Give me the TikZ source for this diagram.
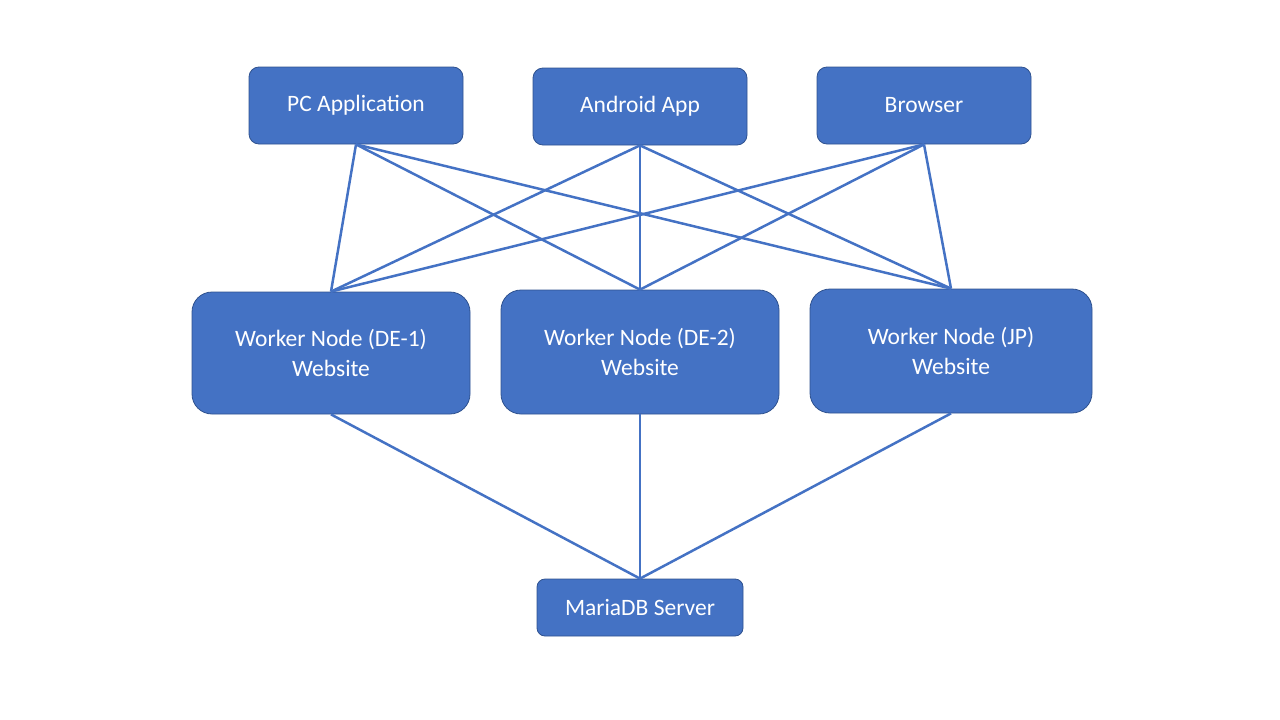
\documentclass[tikz,border=0pt]{standalone}
\usepackage{fontspec}
\setmainfont{Carlito}
\definecolor{bfill}{HTML}{4472C4}
\definecolor{bdraw}{HTML}{2F528F}
\begin{document}
\begin{tikzpicture}[x=1pt,y=-1pt,
 box/.style={draw=bdraw,fill=bfill,line width=0.8pt,text=white,font=\fontsize{23.5}{30}\selectfont,align=center,inner sep=0pt,rounded corners=10pt},
 link/.style={draw=bfill,line width=2.5pt}]
\useasboundingbox (0,0) rectangle (1280,720);
\node[box,minimum width=214pt,minimum height=77pt] (pc) at (356,105.5) {PC Application};
\node[box,minimum width=214pt,minimum height=77pt] (and) at (640,106.5) {Android App};
\node[box,minimum width=214pt,minimum height=77pt] (br) at (924,105.5) {Browser};
\node[box,minimum width=278pt,minimum height=122pt,rounded corners=20pt] (w1) at (331,353) {Worker Node (DE-1)\\Website};
\node[box,minimum width=278pt,minimum height=124pt,rounded corners=20pt] (w2) at (640,352) {Worker Node (DE-2)\\Website};
\node[box,minimum width=282pt,minimum height=124pt,rounded corners=20pt] (w3) at (951,351) {Worker Node (JP)\\Website};
\node[box,minimum width=206pt,minimum height=57pt,rounded corners=8pt] (db) at (640,607.5) {MariaDB Server};
\begin{scope}[on background layer/.try]
\foreach \t in {pc,and,br}{\foreach \w in {w1,w2,w3}{\draw[link] (\t.south) -- (\w.north);}}
\foreach \w in {w1,w2,w3}{\draw[link] (\w.south) -- (db.north);}
\end{scope}
\end{tikzpicture}
\end{document}
